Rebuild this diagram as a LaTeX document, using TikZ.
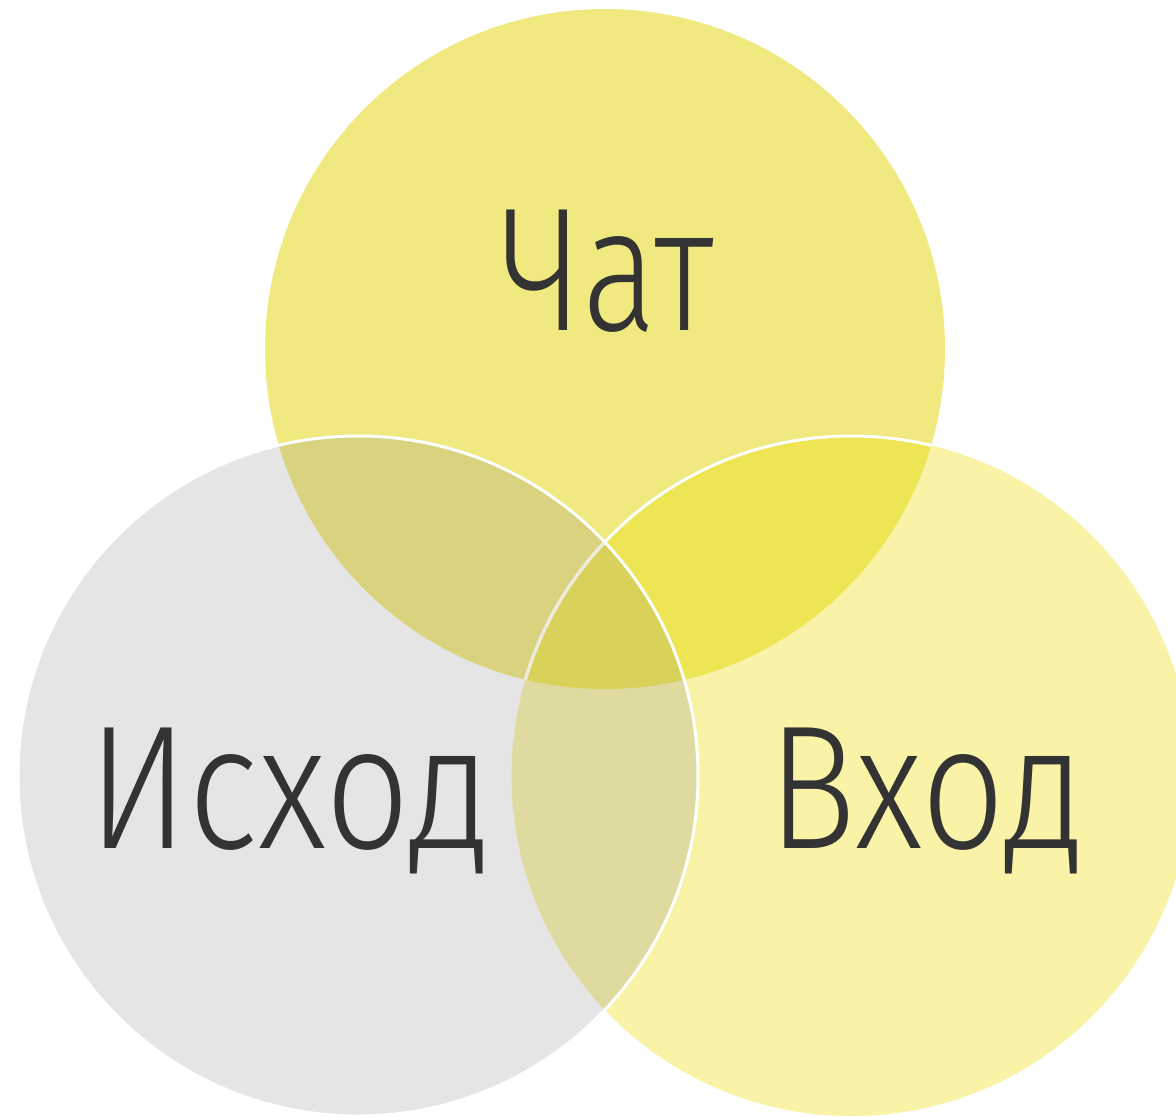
\documentclass[tikz,border=0pt]{standalone}
\usepackage{fontspec}
\usepackage{graphicx}
\newfontfamily\labfont{Fira Sans Light}
\definecolor{topc}{HTML}{F0E980}
\definecolor{leftc}{HTML}{E5E5E5}
\definecolor{rightc}{HTML}{F9F3A7}
\definecolor{tlc}{HTML}{D9D27E}
\definecolor{trc}{HTML}{EDE553}
\definecolor{lrc}{HTML}{DFDBA0}
\definecolor{allc}{HTML}{D9D25A}
\definecolor{txtc}{HTML}{333333}
\definecolor{seamc}{HTML}{ECEBDD}
\tikzset{
  lab/.style={text=txtc, inner sep=0pt, anchor=base, font=\labfont\fontsize{176}{176}\selectfont},
  seam/.style={draw=white, line width=3pt}
}
\begin{document}
\begin{tikzpicture}[x=1pt,y=-1pt]
\useasboundingbox (0,0) rectangle (1176,1117);
\clip (0,0) rectangle (1176,1117);
\def\R{340}
\coordinate (T) at (605,349);
\coordinate (L) at (358,776);
\coordinate (Rc) at (851.5,776);
% base fills
\fill[leftc] (L) circle (\R);
\fill[rightc] (Rc) circle (\R);
\fill[topc] (T) circle (\R);
% pairwise overlaps
\begin{scope}\clip (T) circle (\R); \fill[tlc] (L) circle (\R); \end{scope}
\begin{scope}\clip (T) circle (\R); \fill[trc] (Rc) circle (\R); \end{scope}
\begin{scope}\clip (L) circle (\R); \fill[lrc] (Rc) circle (\R); \end{scope}
\begin{scope}\clip (T) circle (\R); \clip (L) circle (\R); \fill[allc] (Rc) circle (\R); \end{scope}
% seams
\begin{scope}\clip (T) circle (\R); \draw[seam] (Rc) circle (\R); \end{scope}
\begin{scope}\clip (T) circle (\R); \clip (L) circle (\R); \draw[seamc, line width=3pt] (Rc) circle (\R); \end{scope}
\draw[seam] (L) circle (\R);
% labels
\node[lab] (chat) at (607,330) {\resizebox{214pt}{\height}{Чат}};
\node[lab] (ishod) at (290,848) {\resizebox{402pt}{\height}{Исход}};
\node[lab] (vhod) at (926.5,848) {\resizebox{317pt}{\height}{Вход}};
\end{tikzpicture}
\end{document}
